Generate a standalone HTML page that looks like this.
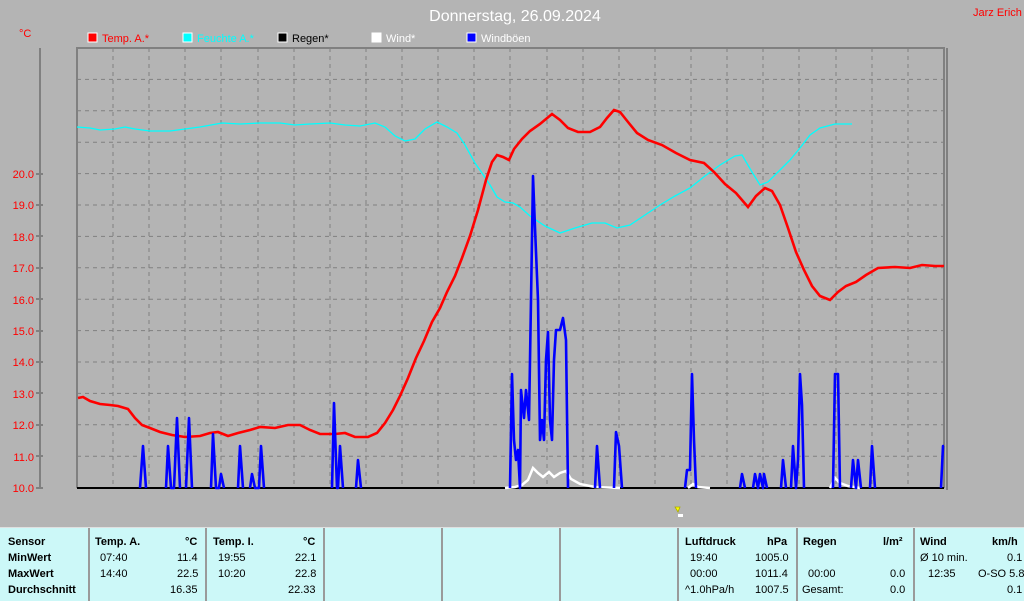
<!DOCTYPE html>
<html><head><meta charset="utf-8"><style>
html,body{margin:0;padding:0;background:#b4b4b4;width:1024px;height:600px;overflow:hidden;font-family:"Liberation Sans",sans-serif}
svg{position:absolute;left:0;top:0}
.tbl{position:absolute;left:0;top:527px;width:1024px;height:73px;background:#ccf8f8;border-top:1px solid #e0e0e0}
.c{position:absolute;top:0;height:73px;border-left:2px solid #9a9a9a;box-sizing:border-box}
.t{position:absolute;font-size:11px;color:#000;white-space:nowrap}
.b{font-weight:bold}
</style></head><body>
<svg width="1024" height="527" xmlns="http://www.w3.org/2000/svg" font-family="Liberation Sans, sans-serif">
<text x="515" y="21" fill="#fff" font-size="16" text-anchor="middle">Donnerstag, 26.09.2024</text>
<text x="973" y="16" fill="#f00" font-size="11">Jarz Erich</text>
<text x="19" y="37" fill="#f00" font-size="11">°C</text>
<g font-size="11">
<rect x="88" y="33" width="9" height="9" fill="#f00" stroke="#fff"/><text x="102" y="42" fill="#f00">Temp. A.*</text>
<rect x="183" y="33" width="9" height="9" fill="#0ff" stroke="#fff"/><text x="197" y="42" fill="#0ff">Feuchte A.*</text>
<rect x="278" y="33" width="9" height="9" fill="#000" stroke="#fff"/><text x="292" y="42" fill="#000">Regen*</text>
<rect x="372" y="33" width="9" height="9" fill="#fff" stroke="#fff"/><text x="386" y="42" fill="#fff">Wind*</text>
<rect x="467" y="33" width="9" height="9" fill="#00f" stroke="#fff"/><text x="481" y="42" fill="#fff">Windböen</text>
</g>
<g stroke="#808080" stroke-width="1" stroke-dasharray="4,4">
<path d="M113 48V488M149 48V488M185 48V488M221 48V488M258 48V488M294 48V488M330 48V488M366 48V488M402 48V488M438 48V488M474 48V488M510 48V488M547 48V488M583 48V488M619 48V488M655 48V488M691 48V488M727 48V488M763 48V488M799 48V488M836 48V488M872 48V488M908 48V488"/>
<path d="M77 79.4H944M77 110.8H944M77 142.2H944M77 173.6H944M77 205H944M77 236.4H944M77 267.8H944M77 299.2H944M77 330.6H944M77 362H944M77 393.4H944M77 424.8H944M77 456.2H944"/>
</g>
<g stroke="#808080" stroke-width="2" fill="none">
<path d="M77 488V48H944V488"/><path d="M947 48V490"/>
<path d="M40 48V488M36 488H43M36 456H43M36 425H43M36 393H43M36 362H43M36 331H43M36 299H43M36 268H43M36 236H43M36 205H43M36 174H43"/>
</g>
<g fill="#f00" font-size="11" text-anchor="end">
<text x="34" y="492">10.0</text><text x="34" y="461">11.0</text><text x="34" y="429">12.0</text><text x="34" y="398">13.0</text><text x="34" y="366">14.0</text><text x="34" y="335">15.0</text><text x="34" y="304">16.0</text><text x="34" y="272">17.0</text><text x="34" y="241">18.0</text><text x="34" y="209">19.0</text><text x="34" y="178">20.0</text>
</g>
<line x1="77" y1="488" x2="944" y2="488" stroke="#000" stroke-width="2"/>
<polyline fill="none" stroke="#0ff" stroke-width="1.3" points="77,127 90,128 100,130 115,129 125,127 135,129 150,131 170,131 185,129 200,127 222,123 240,124 260,123 280,123 295,125 310,124 330,123 345,125 360,126 375,123 385,127 395,136 405,141 415,139 425,129 437,122 447,127 457,133 465,145 475,163 482,173 490,185 497,197 505,202 513,203 520,207 530,216 545,226 560,233 575,228 592,223 605,223 617,228 630,225 645,215 660,205 675,196 690,188 705,176 720,165 735,156 742,155 752,172 760,185 768,182 778,172 790,160 800,148 810,135 820,128 835,124 852,124"/>
<polyline fill="none" stroke="#f00" stroke-width="2.6" points="78,398 83,397 90,401 100,404 110,405 118,406 128,409 135,418 142,425 150,428 160,432 172,435 185,437 200,436 210,433 218,432 228,436 238,433 250,430 260,427 275,428 288,425 300,425 310,430 320,434 335,434 345,433 355,437 368,437 377,433 385,423 393,410 400,396 408,378 416,358 424,341 432,322 440,308 447,292 455,276 462,258 470,236 478,210 486,180 492,162 497,155 503,157 509,160 514,149 522,139 530,131 540,124 552,114 560,120 568,128 578,132 590,132 600,127 607,118 614,110 620,112 628,122 637,133 648,140 662,145 676,153 690,160 704,163 714,172 725,184 736,193 748,207 756,196 765,188 772,191 780,205 788,228 796,252 804,270 812,286 820,296 830,300 838,292 846,286 856,282 866,275 878,268 895,267 910,268 922,265 935,266 944,266"/>
<g fill="none" stroke="#fff" stroke-width="2.5">
<polyline points="505,488 515,487 522,485 528,480 533,468 538,473 543,477 549,472 554,477 560,473 566,471 571,479 580,484 595,487 620,488"/>
<polyline points="688,488 693,484 698,487 710,488"/>
<polyline points="830,488 835,478 840,483 848,486 860,488"/>
</g>
<path fill="none" stroke="#00f" stroke-width="2.6" stroke-linejoin="round" d="M140,488L143,446L146,488 M166,488L168,446L171,488L174,488L177,418L180,488 M186,488L189,418L192,488 M211,488L213,434L216,488L219,488L221,474L224,488 M238,488L240,446L243,488 M250,488L252,474L255,488L259,488L261,446L264,488 M332,488L334,403L337,488L338,488L340,446L343,488 M356,488L358,460L361,488 M510,488L512,374L514,440L516,460L518,450L520,488L521,390L524,418L526,390L529,420L531,300L533,176L535,228L538,300L540,440L542,420L544,440L546,360L548,332L550,420L552,440L554,360L556,330L560,330L563,318L566,340L568,488 M595,488L597,446L600,488 M614,488L616,432L619,446L622,488 M685,488L687,470L690,470L692,374L694,440L696,488 M740,488L742,474L745,488 M753,488L755,474L758,488L760,474L763,488L764,474L767,488 M781,488L783,460L786,488 M791,488L793,446L796,488L798,460L800,374L802,405L804,488 M833,488L835,374L838,374L840,488 M851,488L853,460L856,488L858,460L861,488 M870,488L872,446L875,488 M941,488L943,446L944,446"/>
<g transform="translate(674,507)"><path d="M1 0L6 0L4 5Z" fill="#ff0" stroke="#aa0" stroke-width="0.8"/><rect x="4" y="7" width="5" height="3" fill="#fff"/></g>
</svg>
<div class="tbl">
<div class="c" style="left:88px"></div><div class="c" style="left:205px"></div><div class="c" style="left:323px"></div><div class="c" style="left:441px"></div><div class="c" style="left:559px"></div><div class="c" style="left:677px"></div><div class="c" style="left:796px"></div><div class="c" style="left:913px"></div>
<div class="t b" style="left:8px;top:8px">Sensor</div>
<div class="t b" style="left:8px;top:24px">MinWert</div>
<div class="t b" style="left:8px;top:40px">MaxWert</div>
<div class="t b" style="left:8px;top:56px">Durchschnitt</div>
<div class="t b" style="left:95px;top:8px">Temp. A.</div><div class="t b" style="left:185px;top:8px">°C</div>
<div class="t" style="left:100px;top:24px">07:40</div><div class="t" style="left:177px;top:24px">11.4</div>
<div class="t" style="left:100px;top:40px">14:40</div><div class="t" style="left:177px;top:40px">22.5</div>
<div class="t" style="left:170px;top:56px">16.35</div>
<div class="t b" style="left:213px;top:8px">Temp. I.</div><div class="t b" style="left:303px;top:8px">°C</div>
<div class="t" style="left:218px;top:24px">19:55</div><div class="t" style="left:295px;top:24px">22.1</div>
<div class="t" style="left:218px;top:40px">10:20</div><div class="t" style="left:295px;top:40px">22.8</div>
<div class="t" style="left:288px;top:56px">22.33</div>
<div class="t b" style="left:685px;top:8px">Luftdruck</div><div class="t b" style="left:767px;top:8px">hPa</div>
<div class="t" style="left:690px;top:24px">19:40</div><div class="t" style="left:755px;top:24px">1005.0</div>
<div class="t" style="left:690px;top:40px">00:00</div><div class="t" style="left:755px;top:40px">1011.4</div>
<div class="t" style="left:685px;top:56px">^1.0hPa/h</div><div class="t" style="left:755px;top:56px">1007.5</div>
<div class="t b" style="left:803px;top:8px">Regen</div><div class="t b" style="left:883px;top:8px">l/m²</div>
<div class="t" style="left:808px;top:40px">00:00</div><div class="t" style="left:890px;top:40px">0.0</div>
<div class="t" style="left:802px;top:56px">Gesamt:</div><div class="t" style="left:890px;top:56px">0.0</div>
<div class="t b" style="left:920px;top:8px">Wind</div><div class="t b" style="left:992px;top:8px">km/h</div>
<div class="t" style="left:920px;top:24px">Ø 10 min.</div><div class="t" style="left:1007px;top:24px">0.1</div>
<div class="t" style="left:928px;top:40px">12:35</div><div class="t" style="left:978px;top:40px">O-SO 5.8</div>
<div class="t" style="left:1007px;top:56px">0.1</div>
</div>
</body></html>
